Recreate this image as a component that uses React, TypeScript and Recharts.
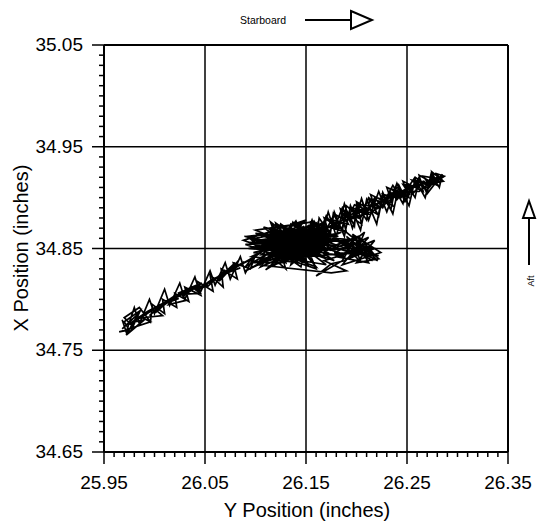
import { LineChart, Line, XAxis, YAxis, ReferenceLine } from 'recharts'

// Y position (horizontal) / X position (vertical) pairs in order
const tailOut = [
  [25.968, 34.771], [25.984, 34.786], [25.972, 34.765], [25.99, 34.78], [25.977, 34.777], [25.997, 34.79],
  [25.982, 34.781], [26.003, 34.793], [25.99, 34.784], [25.974, 34.775], [25.993, 34.788], [26.008, 34.796],
  [25.995, 34.784], [26.012, 34.799], [26.001, 34.787], [26.019, 34.803], [26.006, 34.794], [26.024, 34.801],
  [26.011, 34.798], [26.029, 34.807], [26.017, 34.8], [26.036, 34.809], [26.023, 34.806], [26.041, 34.813],
  [26.028, 34.803], [26.047, 34.816], [26.034, 34.811], [26.053, 34.814], [26.042, 34.809], [26.059, 34.821],
  [26.048, 34.813], [26.065, 34.823], [26.056, 34.819], [26.073, 34.827], [26.061, 34.817], [26.08, 34.836],
  [26.067, 34.824], [26.085, 34.831], [26.071, 34.826], [26.089, 34.837], [26.077, 34.83], [26.095, 34.839],
  [26.083, 34.833], [26.101, 34.843],
]

const blobA = [
  [26.112, 34.851], [26.136, 34.863], [26.121, 34.845], [26.151, 34.858], [26.129, 34.867], [26.161, 34.848],
  [26.141, 34.872], [26.118, 34.853], [26.156, 34.864], [26.133, 34.843], [26.171, 34.86], [26.125, 34.859],
  [26.147, 34.84], [26.166, 34.868], [26.111, 34.862], [26.139, 34.855], [26.159, 34.842], [26.128, 34.871],
  [26.176, 34.856], [26.104, 34.857], [26.146, 34.867], [26.122, 34.841], [26.163, 34.861], [26.135, 34.848],
  [26.153, 34.873], [26.115, 34.846], [26.169, 34.852], [26.131, 34.861], [26.149, 34.845], [26.096, 34.859],
  [26.141, 34.852], [26.179, 34.864], [26.121, 34.866], [26.158, 34.855], [26.108, 34.848], [26.145, 34.86],
  [26.173, 34.845], [26.127, 34.853], [26.151, 34.865], [26.116, 34.874], [26.139, 34.842], [26.162, 34.87],
  [26.101, 34.851], [26.143, 34.858], [26.156, 34.838], [26.131, 34.867], [26.119, 34.858], [26.166, 34.857],
  [26.137, 34.846], [26.123, 34.864],
]

const lobe = [
  [26.182, 34.858], [26.205, 34.848], [26.19, 34.862], [26.215, 34.842], [26.195, 34.851], [26.221, 34.838],
  [26.2, 34.858], [26.21, 34.844], [26.178, 34.846], [26.212, 34.861], [26.192, 34.84], [26.218, 34.85],
  [26.184, 34.857], [26.205, 34.836], [26.196, 34.855], [26.186, 34.838], [26.16, 34.823], [26.175, 34.835],
  [26.188, 34.838], [26.214, 34.853], [26.198, 34.843], [26.208, 34.866], [26.186, 34.849], [26.222, 34.843],
  [26.194, 34.846], [26.176, 34.852], [26.202, 34.862], [26.216, 34.846], [26.189, 34.854], [26.17, 34.848],
]

const blobB = [
  [26.148, 34.851], [26.126, 34.857], [26.16, 34.875], [26.144, 34.848], [26.089, 34.862], [26.133, 34.852],
  [26.171, 34.866], [26.124, 34.847], [26.15, 34.861], [26.113, 34.869], [26.157, 34.846], [26.136, 34.87],
  [26.098, 34.854], [26.147, 34.863], [26.119, 34.843], [26.165, 34.851], [26.129, 34.862], [26.154, 34.841],
  [26.141, 34.866], [26.109, 34.859], [26.17, 34.863], [26.134, 34.845], [26.118, 34.868], [26.159, 34.858],
  [26.127, 34.85], [26.144, 34.873], [26.105, 34.852], [26.163, 34.844], [26.138, 34.859], [26.152, 34.868],
  [26.12, 34.855], [26.174, 34.857], [26.132, 34.839], [26.146, 34.855], [26.114, 34.864], [26.158, 34.851],
  [26.137, 34.876], [26.125, 34.844], [26.168, 34.87], [26.142, 34.849],
]

const armOut = [
  [26.155, 34.866], [26.17, 34.862], [26.165, 34.872], [26.182, 34.87], [26.176, 34.878], [26.192, 34.874],
  [26.186, 34.885], [26.202, 34.88], [26.196, 34.89], [26.212, 34.884], [26.206, 34.893], [26.222, 34.89],
  [26.215, 34.898], [26.232, 34.895], [26.226, 34.903], [26.242, 34.9], [26.236, 34.908], [26.252, 34.904],
  [26.246, 34.913], [26.262, 34.91], [26.255, 34.917], [26.272, 34.913], [26.266, 34.921], [26.284, 34.918],
  [26.278, 34.924], [26.287, 34.921],
]

const armBack = [
  [26.27, 34.91], [26.258, 34.914], [26.25, 34.902], [26.24, 34.91], [26.23, 34.897], [26.22, 34.9],
  [26.21, 34.888], [26.198, 34.893], [26.19, 34.877], [26.178, 34.884], [26.17, 34.868], [26.158, 34.873],
  [26.148, 34.858], [26.165, 34.866], [26.18, 34.876], [26.174, 34.87], [26.195, 34.884], [26.188, 34.88],
  [26.208, 34.89], [26.2, 34.884], [26.224, 34.896], [26.218, 34.892], [26.238, 34.904], [26.23, 34.899],
  [26.256, 34.912], [26.248, 34.906], [26.268, 34.916], [26.26, 34.911], [26.28, 34.92], [26.262, 34.906],
  [26.244, 34.906], [26.226, 34.892], [26.21, 34.884], [26.194, 34.88], [26.18, 34.872], [26.166, 34.87],
  [26.15, 34.862],
]

const blobWide = [
  [26.14, 34.858], [26.095, 34.856], [26.13, 34.836], [26.12, 34.875], [26.17, 34.84], [26.1, 34.865],
  [26.18, 34.858], [26.11, 34.838], [26.15, 34.878], [26.088, 34.858], [26.16, 34.832], [26.126, 34.872],
  [26.19, 34.85], [26.106, 34.844], [26.146, 34.876], [26.135, 34.834], [26.175, 34.868], [26.093, 34.85],
  [26.155, 34.845], [26.115, 34.87], [26.185, 34.845], [26.128, 34.84], [26.1, 34.86], [26.165, 34.874],
  [26.14, 34.838], [26.118, 34.861], [26.18, 34.852], [26.108, 34.871], [26.15, 34.836], [26.135, 34.866],
]

const armWide = [
  [26.152, 34.872], [26.175, 34.858], [26.168, 34.88], [26.19, 34.866], [26.184, 34.889], [26.205, 34.874],
  [26.2, 34.896], [26.22, 34.884], [26.214, 34.903], [26.236, 34.892], [26.23, 34.91], [26.252, 34.9],
  [26.246, 34.916], [26.266, 34.906], [26.262, 34.922], [26.28, 34.912], [26.275, 34.925], [26.286, 34.916],
  [26.268, 34.913], [26.258, 34.92], [26.244, 34.9], [26.236, 34.912], [26.224, 34.89], [26.212, 34.9],
  [26.204, 34.88], [26.19, 34.892], [26.186, 34.87], [26.17, 34.88], [26.166, 34.862], [26.15, 34.868],
]

const armWide2 = [
  [26.158, 34.877], [26.172, 34.855], [26.178, 34.886], [26.188, 34.862], [26.194, 34.892], [26.204, 34.868],
  [26.21, 34.898], [26.22, 34.874], [26.226, 34.905], [26.236, 34.884], [26.242, 34.912], [26.252, 34.892],
  [26.258, 34.918], [26.268, 34.9], [26.274, 34.924], [26.282, 34.91], [26.285, 34.923], [26.27, 34.904],
  [26.262, 34.92], [26.248, 34.896], [26.24, 34.914], [26.23, 34.886], [26.222, 34.906], [26.212, 34.878],
  [26.205, 34.899], [26.196, 34.87], [26.188, 34.894], [26.18, 34.862], [26.172, 34.886], [26.164, 34.856],
  [26.156, 34.878], [26.145, 34.85],
]

const armDense = [
  [26.15, 34.87], [26.16, 34.858], [26.163, 34.88], [26.174, 34.864], [26.177, 34.884], [26.186, 34.868],
  [26.19, 34.888], [26.198, 34.872], [26.2, 34.893], [26.21, 34.878], [26.213, 34.898], [26.222, 34.882],
  [26.226, 34.902], [26.234, 34.888], [26.238, 34.908], [26.246, 34.894], [26.25, 34.913], [26.258, 34.9],
  [26.262, 34.918], [26.27, 34.906], [26.275, 34.922], [26.283, 34.914], [26.28, 34.92], [26.272, 34.91],
  [26.266, 34.916], [26.256, 34.904], [26.25, 34.91], [26.24, 34.898], [26.234, 34.905], [26.226, 34.89],
  [26.218, 34.9], [26.21, 34.884], [26.202, 34.894], [26.194, 34.876], [26.186, 34.89], [26.178, 34.87],
  [26.17, 34.882], [26.162, 34.862], [26.155, 34.876],
]

const blobDense = [
  [26.092, 34.862], [26.13, 34.83], [26.115, 34.876], [26.17, 34.834], [26.098, 34.846], [26.185, 34.866],
  [26.105, 34.832], [26.14, 34.877], [26.16, 34.83], [26.09, 34.854], [26.195, 34.858], [26.12, 34.835],
  [26.125, 34.874], [26.178, 34.838], [26.1, 34.868], [26.155, 34.876], [26.145, 34.832], [26.11, 34.856],
  [26.188, 34.842], [26.135, 34.874], [26.118, 34.838], [26.168, 34.876], [26.096, 34.842], [26.142, 34.836],
  [26.128, 34.868], [26.175, 34.848], [26.108, 34.864], [26.152, 34.834], [26.138, 34.87], [26.165, 34.842],
  [26.112, 34.85], [26.148, 34.872], [26.124, 34.836], [26.182, 34.862], [26.102, 34.858], [26.158, 34.866],
  [26.132, 34.842], [26.116, 34.866], [26.17, 34.854], [26.14, 34.846],
]

const lobe2 = [
  [26.19, 34.866], [26.222, 34.84], [26.2, 34.836], [26.218, 34.858], [26.18, 34.842], [26.212, 34.836],
  [26.196, 34.864], [26.224, 34.846], [26.186, 34.834], [26.206, 34.858], [26.176, 34.86], [26.216, 34.838],
  [26.2, 34.848], [26.168, 34.838], [26.19, 34.828], [26.175, 34.826],
]

const blobLow = [
  [26.102, 34.834], [26.125, 34.842], [26.11, 34.829], [26.138, 34.846], [26.118, 34.833], [26.145, 34.85],
  [26.128, 34.836], [26.097, 34.836], [26.115, 34.84], [26.09, 34.828],
]

const tailBack = [
  [26.128, 34.848], [26.104, 34.838], [26.112, 34.845], [26.09, 34.832], [26.097, 34.841], [26.075, 34.828],
  [26.083, 34.838], [26.064, 34.818], [26.07, 34.829], [26.052, 34.812], [26.058, 34.818], [26.04, 34.81],
  [26.045, 34.806], [26.027, 34.805], [26.031, 34.799], [26.014, 34.795], [26.02, 34.802], [26.002, 34.789],
  [26.008, 34.784], [25.988, 34.782], [25.996, 34.778], [25.978, 34.772], [25.986, 34.789], [25.97, 34.778],
]

const tailWide = [
  [25.975, 34.77], [25.965, 34.768], [25.98, 34.772], [25.97, 34.782], [25.985, 34.792], [25.996, 34.778],
  [25.998, 34.795], [26.01, 34.786], [26.008, 34.8], [26.022, 34.792], [26.02, 34.806], [26.034, 34.798],
  [26.03, 34.812], [26.046, 34.804], [26.042, 34.818], [26.058, 34.808], [26.055, 34.824], [26.068, 34.812],
  [26.066, 34.83], [26.082, 34.82], [26.078, 34.836], [26.095, 34.83],
]

const tailWide2 = [
  [26.1, 34.844], [26.09, 34.826], [26.085, 34.842], [26.075, 34.82], [26.07, 34.836], [26.06, 34.814],
  [26.055, 34.828], [26.045, 34.806], [26.04, 34.822], [26.03, 34.8], [26.025, 34.816], [26.015, 34.794],
  [26.01, 34.81], [26.0, 34.786], [25.995, 34.8], [25.985, 34.776], [25.98, 34.792], [25.972, 34.768],
  [25.968, 34.78],
]

const xMajor = [25.95, 26.05, 26.15, 26.25, 26.35]
const yMajor = [34.65, 34.75, 34.85, 34.95, 35.05]

const track = [
  ...tailOut, ...blobA, ...lobe, ...blobB, ...armOut, ...armBack, ...blobWide, ...armWide,
  ...blobDense, ...armWide2, ...armDense, ...lobe2, ...blobLow, ...tailBack, ...tailWide, ...tailWide2,
]
const data = track.map(([h, v]) => ({ h, v }))

// minor ticks every 0.01
const r2 = (n: number) => Math.round(n * 100) / 100
const xTicks: number[] = []
const yTicks: number[] = []
for (let i = 0; i <= 40; i++) {
  xTicks.push(r2(25.95 + i * 0.01))
  yTicks.push(r2(34.65 + i * 0.01))
}
const isMajor = (v: number, majors: number[]) => majors.some(m => Math.abs(m - v) < 1e-6)

const FONT = '"Liberation Sans", Arial, Helvetica, sans-serif'

const XTick = (props: any) => {
  const { x, y, payload } = props
  const major = isMajor(payload.value, xMajor)
  return (
    <g>
      <line x1={x} x2={x} y1={y} y2={y + (major ? 12 : 5)} stroke="#000" strokeWidth={1.5} />
      {major && (
        <text x={x} y={y + 37} textAnchor="middle" fontSize={19} fontFamily={FONT} fill="#000">
          {payload.value.toFixed(2)}
        </text>
      )}
    </g>
  )
}

const YTick = (props: any) => {
  const { x, y, payload } = props
  const major = isMajor(payload.value, yMajor)
  return (
    <g>
      <line x1={x} x2={x - (major ? 12 : 5)} y1={y} y2={y} stroke="#000" strokeWidth={1.5} />
      {major && (
        <text x={x - 21} y={y + 6} textAnchor="end" fontSize={19} fontFamily={FONT} fill="#000">
          {payload.value.toFixed(2)}
        </text>
      )}
    </g>
  )
}

export default function App() {
  return (
    <div style={{ position: 'absolute', left: 0, top: 0, width: 538, height: 525, background: '#fff' }}>
      <LineChart width={538} height={525} data={data} margin={{ top: 45, right: 30, bottom: 0, left: 0 }}>
        <XAxis
          type="number"
          dataKey="h"
          domain={[25.95, 26.35]}
          ticks={xTicks}
          interval={0}
          tickSize={0}
          tickMargin={0}
          tickLine={false}
          tick={(p: any) => <XTick {...p} />}
          axisLine={{ stroke: '#000', strokeWidth: 2 }}
          height={73}
          allowDataOverflow
        />
        <YAxis
          type="number"
          domain={[34.65, 35.05]}
          ticks={yTicks}
          interval={0}
          tickSize={0}
          tickMargin={0}
          tickLine={false}
          tick={(p: any) => <YTick {...p} />}
          axisLine={{ stroke: '#000', strokeWidth: 2 }}
          width={104}
          allowDataOverflow
        />
        {xMajor.slice(1, 4).map(v => (
          <ReferenceLine key={`gx${v}`} x={v} stroke="#000" strokeWidth={1.5} />
        ))}
        {yMajor.slice(1, 4).map(v => (
          <ReferenceLine key={`gy${v}`} y={v} stroke="#000" strokeWidth={1.5} />
        ))}
        <ReferenceLine y={35.05} stroke="#000" strokeWidth={2} />
        <ReferenceLine x={26.35} stroke="#000" strokeWidth={2} />
        <Line
          type="linear"
          dataKey="v"
          stroke="#000"
          strokeWidth={1.7}
          dot={false}
          isAnimationActive={false}
        />
      </LineChart>
      <svg
        width={538}
        height={525}
        style={{ position: 'absolute', left: 0, top: 0, pointerEvents: 'none' }}
        fontFamily={FONT}
      >
        <text x={307} y={517} textAnchor="middle" fontSize={20} fill="#000">
          Y Position (inches)
        </text>
        <text transform="translate(28,248) rotate(-90)" textAnchor="middle" fontSize={20} fill="#000">
          X Position (inches)
        </text>
        <text x={240} y={24} fontSize={10.5} fill="#000">Starboard</text>
        <line x1={305} x2={351} y1={20} y2={20} stroke="#000" strokeWidth={2} />
        <polygon points="351,11 372,20 351,29" fill="#fff" stroke="#000" strokeWidth={2} />
        <polygon points="529,201 523,218 535,218" fill="#fff" stroke="#000" strokeWidth={2} />
        <line x1={529} x2={529} y1={218} y2={265} stroke="#000" strokeWidth={2} />
        <text transform="translate(534,281) rotate(-90)" textAnchor="middle" fontSize={9} fill="#000">
          Aft
        </text>
      </svg>
    </div>
  )
}
